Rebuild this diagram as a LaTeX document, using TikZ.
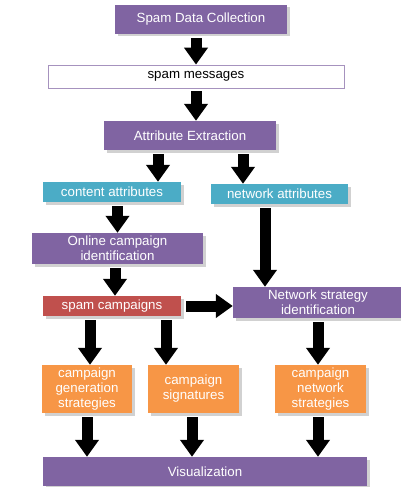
\documentclass[tikz,border=0pt]{standalone}
\usepackage{fontspec}
\setmainfont{Liberation Sans}
\usetikzlibrary{arrows.meta,shadows}
\definecolor{boxpurple}{HTML}{8064A2}
\definecolor{boxcyan}{HTML}{4BACC6}
\definecolor{boxred}{HTML}{C0504D}
\definecolor{boxorange}{HTML}{F79646}
\begin{document}
\begin{tikzpicture}[x=1pt, y=-1pt,
    box/.style={inner sep=0pt, text=white, align=center,
      font=\fontsize{13.3}{15}\selectfont,
      drop shadow={shadow xshift=2.5pt, shadow yshift=-2.5pt, fill=black!18, opacity=1}},
    purplebox/.style={box, fill=boxpurple},
    cyanbox/.style={box, fill=boxcyan},
    redbox/.style={box, fill=boxred},
    orangebox/.style={box, fill=boxorange},
    flow/.style={line width=11pt, -{Triangle[width=23pt, length=17pt]}, shorten <=4pt}]
      \useasboundingbox (0,0) rectangle (401,487);

      \node[purplebox, minimum width=172pt, minimum height=29pt] (collect) at (201,19.5) {Spam Data Collection};
      \node[draw=boxpurple!70, line width=0.8pt, fill=white, inner sep=0pt, font=\fontsize{13.3}{15}\selectfont,
            minimum width=296pt, minimum height=23pt] (msgs) at (196,76.5) {spam messages};
      \node[purplebox, minimum width=172pt, minimum height=29pt] (attr) at (190,135.5) {Attribute Extraction};
      \node[cyanbox, minimum width=138pt, minimum height=20pt] (content) at (112,192) {content attributes};
      \node[cyanbox, minimum width=137pt, minimum height=20pt] (network) at (279.5,194) {network attributes};
      \node[purplebox, minimum width=171pt, minimum height=31pt] (online) at (117.5,248.5) {Online campaign\\identification};
      \node[redbox, minimum width=138pt, minimum height=20pt] (campaigns) at (112,306) {spam campaigns};
      \node[purplebox, minimum width=170pt, minimum height=31pt] (netstrat) at (318,302.5) {Network strategy\\identification};
      \node[orangebox, minimum width=90pt, minimum height=48pt] (gen) at (87,389) {campaign\\generation\\strategies};
      \node[orangebox, minimum width=91pt, minimum height=48pt] (sig) at (193.5,389) {campaign\\signatures};
      \node[orangebox, minimum width=91pt, minimum height=48pt] (netw) at (320.5,389) {campaign\\network\\strategies};
      \node[purplebox, minimum width=324pt, minimum height=29pt] (vis) at (205,471.5) {Visualization};

      \draw[flow] (collect.south -| msgs) -- (msgs.north);
      \draw[flow, shorten <=3pt] (msgs.south) -- (msgs.south |- attr.north);
      \draw[flow] ([xshift=-32pt]attr.south) -- ([xshift=-32pt]attr.south |- content.north);
      \draw[flow] ([xshift=53pt]attr.south) -- ([xshift=53pt]attr.south |- network.north);
      \draw[flow] (content.south -| online) -- (online.north);
      \draw[flow] ([xshift=-14.5pt]network.south) -- ([xshift=-14.5pt]network.south |- netstrat.north);
      \draw[flow] ([xshift=-2.5pt]online.south) -- ([xshift=-2.5pt]online.south |- campaigns.north);
      \draw[flow, shorten <=5pt] (campaigns.east) -- (campaigns.east -| netstrat.west);
      \draw[flow] ([xshift=3pt]gen.north |- campaigns.south) -- ([xshift=3pt]gen.north);
      \draw[flow] ([xshift=-27.5pt]sig.north |- campaigns.south) -- ([xshift=-27.5pt]sig.north);
      \draw[flow] (netstrat.south) -- (netstrat.south |- netw.north);
      \draw[flow] (gen.south) -- (gen.south |- vis.north);
      \draw[flow] ([xshift=-1.5pt]sig.south) -- ([xshift=-1.5pt]sig.south |- vis.north);
      \draw[flow] ([xshift=-2.5pt]netw.south) -- ([xshift=-2.5pt]netw.south |- vis.north);
    \end{tikzpicture}
\end{document}
